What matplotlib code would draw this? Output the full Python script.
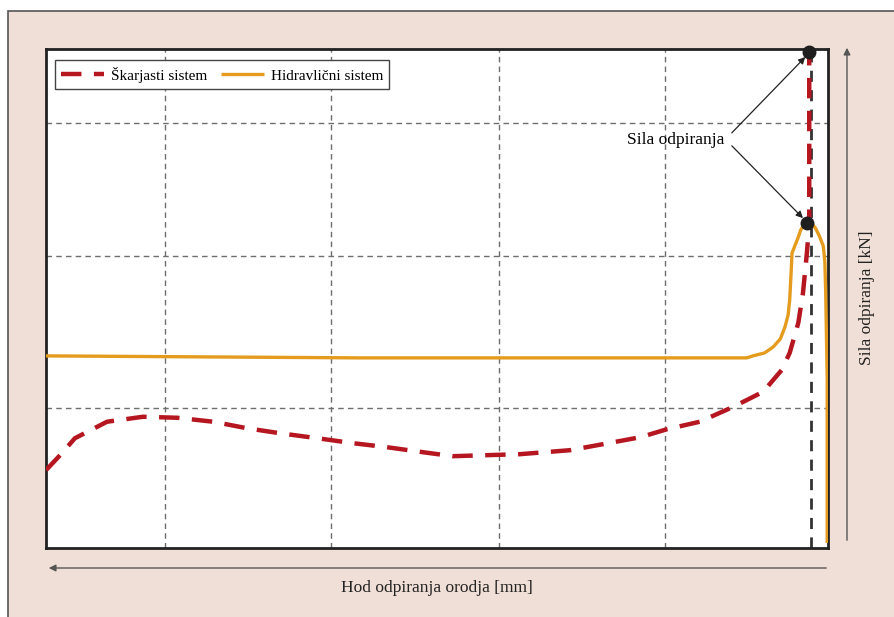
import matplotlib.pyplot as plt
from matplotlib.patches import Rectangle, FancyArrowPatch

# Hod odpiranja (relativno, 0-100) in sila (relativno, 0-100)
skarjasti_x = [0, 1.8, 3.7, 7.8, 12.4, 16.8, 21.4, 25.7, 29.9, 34.7, 39.3, 43.6,
               48.2, 52.0, 60.6, 67.0, 70.5, 76.0, 79.4, 83.6, 87.9, 91.7, 94.1,
               95.1, 96.2, 96.8, 97.3, 97.6, 97.6]
skarjasti_y = [15.6, 18.6, 22.0, 25.3, 26.3, 26.1, 25.3, 24.0, 23.0, 22.0, 21.0, 20.2,
               19.2, 18.4, 18.8, 19.6, 20.6, 22.2, 23.8, 25.3, 28.3, 31.3, 35.7,
               39.1, 45.1, 51.1, 59.1, 65.1, 99.4]

hidravlicni_x = [0, 20, 40, 89.6, 90.4, 91.9, 93.0, 93.9, 94.5, 94.9, 95.1, 95.3,
                 95.4, 95.8, 96.2, 96.5, 96.9, 97.4, 97.9, 98.4, 98.9, 99.4, 99.6,
                 99.7, 99.9, 99.9]
hidravlicni_y = [38.5, 38.3, 38.1, 38.1, 38.5, 39.1, 40.3, 41.9, 44.3, 46.7, 49.7, 55.7,
                 59.1, 60.7, 62.3, 63.7, 64.7, 65.3, 65.1, 64.1, 62.5, 60.5, 57.3,
                 51.7, 33.7, 1.0]

# tocki sile odpiranja
sila_x = [97.6, 97.3]
sila_y = [99.4, 65.1]

mreza_x = [15.2, 36.5, 57.9, 79.2]
mreza_y = [28.1, 58.6, 85.2]
konec_hoda = 97.8

rdeca = '#b5161f'
oranzna = '#e49b1e'
ozadje = '#f0dfd6'

plt.rcParams['font.family'] = ['Liberation Serif', 'DejaVu Serif']

fig = plt.figure(figsize=(8.94, 6.17), dpi=100)
fig.patch.set_facecolor('white')
fig.add_artist(Rectangle((8 / 894, -0.1), 1.2, 0.1 + 606 / 617, transform=fig.transFigure,
                         facecolor=ozadje, edgecolor='#555555', linewidth=1.2, zorder=-10))

ax = fig.add_axes([46 / 894, 69 / 617, 782 / 894, 499 / 617])
ax.set_facecolor('white')
ax.set_xlim(0, 100)
ax.set_ylim(0, 100)
ax.set_xticks([])
ax.set_yticks([])
for s in ax.spines.values():
    s.set_linewidth(2)
    s.set_color('#222222')

for gx in mreza_x:
    ax.axvline(gx, color='#6e6e6e', linewidth=1, linestyle=(0, (4, 3)), zorder=1)
for gy in mreza_y:
    ax.axhline(gy, color='#6e6e6e', linewidth=1, linestyle=(0, (4, 3)), zorder=1)
ax.axvline(konec_hoda, ymax=0.985, color='#333333', linewidth=2, linestyle=(0, (4, 3)), zorder=2)

ax.plot(hidravlicni_x, hidravlicni_y, color=oranzna, linewidth=2.4,
        solid_capstyle='butt', solid_joinstyle='round', label='Hidravlični sistem', zorder=3)
ax.plot(skarjasti_x, skarjasti_y, color=rdeca, linewidth=3.2,
        dashes=(4.6, 2.8), label='Škarjasti sistem', zorder=4)
ax.plot(sila_x, sila_y, 'o', color='#1e1e1e', markersize=9, zorder=6, clip_on=False)

# oznaka sile odpiranja
ax.text(86.8, 81.8, 'Sila odpiranja', ha='right', va='center', fontsize=12.5, zorder=7)
for (x1, y1), (x2, y2) in [((87.7, 83.2), (97.1, 98.4)), ((87.7, 80.6), (96.8, 66.1))]:
    ax.annotate('', xy=(x2, y2), xytext=(x1, y1),
                arrowprops=dict(arrowstyle='-|>', color='#222222', lw=0.9,
                                mutation_scale=10, shrinkA=0, shrinkB=0), zorder=7)

# legenda: najprej skarjasti
h, l = ax.get_legend_handles_labels()
leg = ax.legend(h[::-1], l[::-1], loc='upper left', bbox_to_anchor=(0.012, 0.977), ncol=2,
                fontsize=11, frameon=True, fancybox=False, edgecolor='#444444',
                framealpha=1, handlelength=2.8, columnspacing=0.9, borderpad=0.4,
                handletextpad=0.45, borderaxespad=0)
leg.get_frame().set_linewidth(1)

# puscici osi
fig.add_artist(FancyArrowPatch((847 / 894, 74 / 617), (847 / 894, 572 / 617),
                               transform=fig.transFigure, arrowstyle='-|>', color='#555555',
                               lw=1, mutation_scale=10))
fig.add_artist(FancyArrowPatch((829 / 894, 49 / 617), (46 / 894, 49 / 617),
                               transform=fig.transFigure, arrowstyle='-|>', color='#555555',
                               lw=1, mutation_scale=10))
fig.text(867 / 894, 319 / 617, 'Sila odpiranja [kN]', rotation=90, ha='center', va='center',
         fontsize=12.5, color='#222222')
fig.text(437 / 894, 29 / 617, 'Hod odpiranja orodja [mm]', ha='center', va='center',
         fontsize=12.5, color='#222222')

fig.savefig('out.png', dpi=100)
